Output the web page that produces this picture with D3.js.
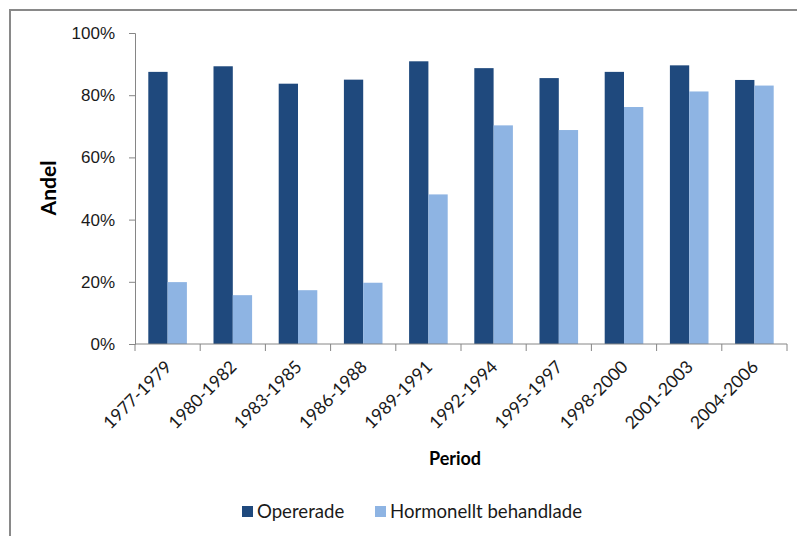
<!DOCTYPE html>
<html>
<head>
<meta charset="utf-8">
<script src="https://cdn.jsdelivr.net/npm/d3@7"></script>
<style>
  body { margin: 0; background: #fff; }
  svg { display: block; font-family: Lato, "Open Sans", sans-serif; }
</style>
</head>
<body>
<svg width="797" height="536"></svg>
<script>
// periods on the x axis
const periods = ["1977-1979", "1980-1982", "1983-1985", "1986-1988", "1989-1991",
                 "1992-1994", "1995-1997", "1998-2000", "2001-2003", "2004-2006"];
// shares (percent)
const opererade = [87.5, 89.3, 83.7, 85.0, 90.9, 88.7, 85.5, 87.5, 89.6, 84.9];
const hormonellt = [19.9, 15.7, 17.3, 19.7, 48.1, 70.3, 68.8, 76.2, 81.2, 83.1];
const seriesNames = ["Opererade", "Hormonellt behandlade"];
const colors = ["#1F497D", "#8EB4E3"];
const yTicks = [0, 0.2, 0.4, 0.6, 0.8, 1.0];

var svg = d3.select("svg"),
    width = +svg.attr("width"),
    height = +svg.attr("height");

// outer chart border (Excel style)
svg.append("rect")
    .attr("x", 10).attr("y", 10)
    .attr("width", width + 20).attr("height", height + 20)
    .attr("fill", "none")
    .attr("stroke", "#898989")
    .attr("stroke-width", 2);

var x0 = d3.scaleBand()
    .domain(periods)
    .range([135, 787]);

var bw = x0.bandwidth();
var x1 = d3.scaleBand()
    .domain(seriesNames)
    .range([bw * 0.204, bw * 0.796]);

var y = d3.scaleLinear()
    .domain([0, 1])
    .range([344, 33]);

var rows = periods.map(function(p, i) {
    return { period: p, values: [opererade[i] / 100, hormonellt[i] / 100] };
});

// bars
var groups = svg.append("g")
    .selectAll("g")
    .data(rows)
    .enter().append("g")
      .attr("transform", function(d) { return "translate(" + x0(d.period) + ",0)"; });

groups.selectAll("rect")
    .data(function(d) { return d.values.map(function(v, k) { return { key: seriesNames[k], value: v, k: k }; }); })
    .enter().append("rect")
      .attr("x", function(d) { return x1(d.key); })
      .attr("width", x1.bandwidth())
      .attr("y", function(d) { return y(d.value); })
      .attr("height", function(d) { return y(0) - y(d.value); })
      .attr("fill", function(d) { return colors[d.k]; });

// y axis
var yAxis = svg.append("g")
    .attr("transform", "translate(135,0)")
    .call(d3.axisLeft(y).tickValues(yTicks).tickFormat(d3.format(".0%")).tickSize(6).tickPadding(14));
yAxis.selectAll("text").style("font-size", "17px").attr("fill", "#1a1a1a");
yAxis.selectAll("line").attr("stroke", "#868686");
yAxis.select(".domain").attr("stroke", "#868686");

// x axis
var xAxis = svg.append("g")
    .attr("transform", "translate(0,344)")
    .call(d3.axisBottom(x0).tickSize(0).tickFormat(""));
xAxis.select(".domain").attr("stroke", "#868686").attr("d", "M135,0H787");

// category separator ticks
svg.append("g")
    .selectAll("line")
    .data(periods.concat(["end"]))
    .enter().append("line")
      .attr("x1", function(d, i) { return x0.range()[0] + i * bw; })
      .attr("x2", function(d, i) { return x0.range()[0] + i * bw; })
      .attr("y1", 344).attr("y2", 351)
      .attr("stroke", "#868686");

// rotated category labels
svg.append("g")
    .selectAll("text")
    .data(periods)
    .enter().append("text")
      .attr("transform", function(d) {
          return "translate(" + (x0(d) + bw / 2 + 5) + ",368) rotate(-45)";
      })
      .attr("text-anchor", "end")
      .style("font-size", "17.5px")
      .attr("fill", "#1a1a1a")
      .text(function(d) { return d; });

// axis titles
svg.append("text")
    .attr("transform", "translate(56,188) rotate(-90)")
    .attr("text-anchor", "middle")
    .style("font-size", "21px")
    .style("font-weight", "bold")
    .text("Andel");

svg.append("text")
    .attr("x", 455).attr("y", 465)
    .attr("text-anchor", "middle")
    .style("font-size", "18px")
    .style("font-weight", "bold")
    .text("Period");

// legend
var legendX = [242, 375];
var legend = svg.append("g")
    .selectAll("g")
    .data(seriesNames)
    .enter().append("g")
      .attr("transform", function(d, i) { return "translate(" + legendX[i] + ",506)"; });
legend.append("rect")
    .attr("width", 11).attr("height", 11)
    .attr("fill", function(d, i) { return colors[i]; });
legend.append("text")
    .attr("x", 15).attr("y", 12)
    .style("font-size", "18.6px")
    .attr("fill", "#1a1a1a")
    .text(function(d) { return d; });
</script>
</body>
</html>
